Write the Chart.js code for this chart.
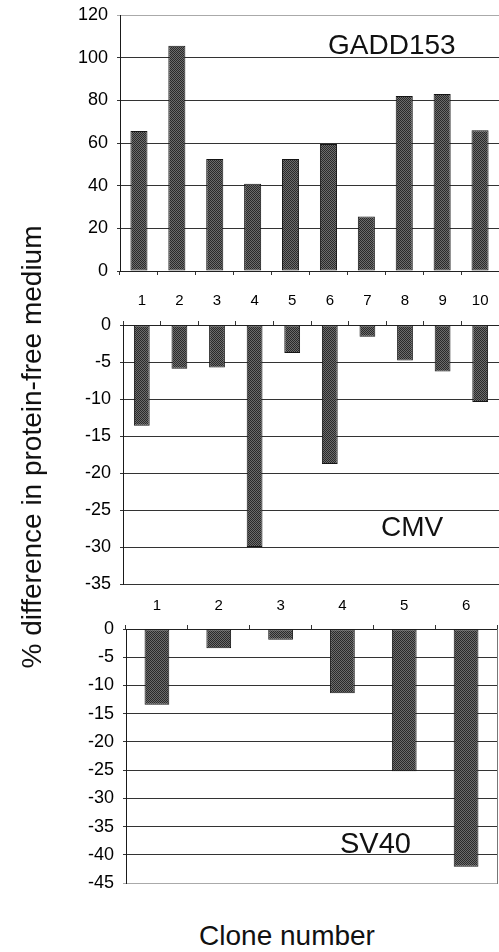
<!DOCTYPE html>
<html>
<head>
<meta charset="utf-8">
<script src="https://cdn.jsdelivr.net/npm/chart.js@4/dist/chart.umd.min.js"></script>
<style>
  html, body { margin:0; padding:0; background:#fff; }
  body { width:499px; height:952px; position:relative; overflow:hidden; font-family:'Liberation Sans', Arial, sans-serif; }
  .panel { position:absolute; left:0; width:499px; }
  .lbl { position:absolute; font-family:'Liberation Sans', Arial, sans-serif; color:#111; line-height:1; white-space:nowrap; }
</style>
</head>
<body>
<script>
// ---- data ----
const gaddClones = ['1','2','3','4','5','6','7','8','9','10'];
const gaddValues = [65.6, 105.6, 52.5, 40.9, 52.5, 59.5, 25.6, 82, 83, 66];
const cmvClones = ['1','2','3','4','5','6','7','8','9','10'];
const cmvValues = [-13.6, -5.9, -5.75, -30, -3.8, -18.8, -1.6, -4.8, -6.3, -10.4];
const sv40Clones = ['1','2','3','4','5','6'];
const sv40Values = [-13.4, -3.4, -1.9, -11.4, -25.2, -42.1];
const gaddTicks = [0, 120, 20];   // min, max, step
const cmvTicks = [-35, 0, 5];
const sv40Ticks = [-45, 0, 5];
const panelTitles = ['GADD153', 'CMV', 'SV40'];
const yTitle = '% difference in protein-free medium';
const xTitle = 'Clone number';
</script>
<div class="panel" style="top:0;height:290px"><canvas id="c1" width="499" height="290"></canvas></div>
<div class="panel" style="top:280px;height:310px"><canvas id="c2" width="499" height="310"></canvas></div>
<div class="panel" style="top:590px;height:310px"><canvas id="c3" width="499" height="310"></canvas></div>
<div class="lbl" id="t1" style="left:328px;top:31px;font-size:28px"></div>
<div class="lbl" id="t2" style="left:381px;top:513px;font-size:28px"></div>
<div class="lbl" id="t3" style="left:340px;top:829px;font-size:29px"></div>
<div class="lbl" id="xt" style="left:87px;width:400px;text-align:center;top:922px;font-size:28px"></div>
<div class="lbl" id="yt" style="left:-218px;top:433px;width:500px;height:28px;text-align:center;font-size:28px;transform:rotate(-90deg);transform-origin:50% 50%"></div>
<script>
document.getElementById('t1').textContent = panelTitles[0];
document.getElementById('t2').textContent = panelTitles[1];
document.getElementById('t3').textContent = panelTitles[2];
document.getElementById('xt').textContent = xTitle;
document.getElementById('yt').textContent = yTitle;

function makePattern(){
  const c = document.createElement('canvas'); c.width = 2; c.height = 2;
  const x = c.getContext('2d');
  x.fillStyle = '#6c6c6c'; x.fillRect(0,0,2,2);
  x.fillStyle = '#2a2a2a'; x.fillRect(0,0,1,1); x.fillRect(1,1,1,1);
  return x.createPattern(c, 'repeat');
}
const FONT = "'Liberation Sans', Arial, sans-serif";

function build(id, labels, values, ticks, o){
  const [mn, mx, st] = ticks;
  const scales = {
    x: {
      position: o.xPos,
      offset: true,
      grid: { display:true, drawOnChartArea:false, drawTicks:true, tickLength:4, color:'#333', offset:true },
      border: { display:true, color:'#222', width:1 },
      ticks: { display:o.xLabels, color:'#000', padding:o.xPad, font:{ family:FONT, size:15 }, maxRotation:0, autoSkip:false },
      afterFit: ax => { ax.height = o.xH; ax.paddingLeft = 0; ax.paddingRight = 0; }
    },
    y: {
      min: mn, max: mx,
      grid: { color: c => (c.tick && c.tick.value === o.lightVal) ? '#aaa' : '#333', lineWidth:1, tickLength:3, drawTicks:true },
      border: { display:true, color:'#1a1a1a', width:1 },
      ticks: { stepSize: st, color:'#000', padding:9, font:{ family:FONT, size:18 } },
      afterFit: ax => { ax.width = o.yW; ax.paddingTop = 0; ax.paddingBottom = 0; }
    }
  };
  if (o.rightBorder) {
    scales.y2 = {
      position:'right', display:true,
      grid:{ drawOnChartArea:false, drawTicks:false },
      border:{ display:true, color:'#777', width:1 },
      ticks:{ display:false },
      afterFit: ax => { ax.width = 0; ax.paddingTop = 0; ax.paddingBottom = 0; }
    };
  }
  return new Chart(document.getElementById(id), {
    type:'bar',
    data:{ labels, datasets:[{ data: values, backgroundColor: makePattern(), borderColor:'#151515', borderWidth:1, borderSkipped:false, categoryPercentage:1, barPercentage:o.bp }] },
    options:{
      responsive:false, animation:false, devicePixelRatio:1,
      layout:{ padding: o.pad },
      plugins:{ legend:{ display:false }, tooltip:{ enabled:false }, title:{ display:false } },
      scales
    }
  });
}

build('c1', gaddClones, gaddValues, gaddTicks, { xPos:'bottom', xLabels:false, xPad:0, xH:19, yW:120, bp:0.45, lightVal:120, pad:{ top:15, right:0, bottom:0, left:0 } });
build('c2', cmvClones, cmvValues, cmvTicks, { xPos:'top', xLabels:true, xPad:11, xH:45, yW:123, bp:0.42, lightVal:null, pad:{ top:0, right:0, bottom:6, left:0 } });
build('c3', sv40Clones, sv40Values, sv40Ticks, { xPos:'top', xLabels:true, xPad:10, xH:39, yW:126, bp:0.40, lightVal:-45, rightBorder:true, pad:{ top:0, right:2, bottom:17, left:0 } });
</script>
</body>
</html>
